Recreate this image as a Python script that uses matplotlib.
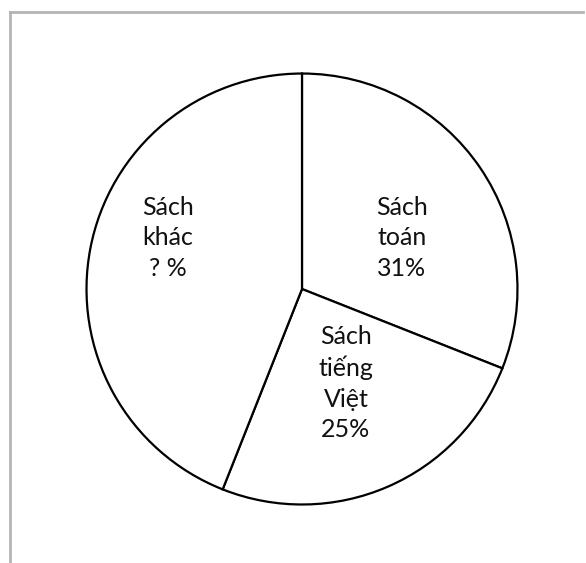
import matplotlib
matplotlib.use("Agg")
import matplotlib.pyplot as plt
import numpy as np

plt.rcParams['font.family'] = ['Lato', 'Noto Sans', 'DejaVu Sans']

labels = ["Sách\ntoán\n31%", "Sách\ntiếng\nViệt\n25%", "Sách\nkhác\n? %"]
values = [31, 25, 44]

# where each label sits inside its slice (data units, radius = 1)
label_xy = [(0.464, 0.237), (0.204, -0.436), (-0.622, 0.237)]

fig = plt.figure(figsize=(5.86, 5.63), dpi=100)
fig.patch.set_facecolor("white")

# grey frame (top and left edges visible in the original)
fig.add_artist(plt.Line2D([10 / 586, 583 / 586], [1 - 12 / 563, 1 - 12 / 563],
                          color="#b4b4b4", lw=2, transform=fig.transFigure))
fig.add_artist(plt.Line2D([10 / 586, 10 / 586], [1 - 12 / 563, 0],
                          color="#b4b4b4", lw=2, transform=fig.transFigure))

ax = fig.add_axes([0.1476, 0.1039, 0.7355, 0.7655])
wedges, _ = ax.pie(values, startangle=90, counterclock=False, radius=1,
                   colors=["white"] * 3,
                   wedgeprops=dict(edgecolor="black", linewidth=1.6))
ax.set_xlim(-1, 1)
ax.set_ylim(-1, 1)
ax.axis("off")

for txt, (x, y) in zip(labels, label_xy):
    ax.text(x, y, txt, ha="center", va="center", fontsize=18,
            linespacing=1.4, color="#111111")

fig.savefig("out.png", dpi=100, facecolor="white")
